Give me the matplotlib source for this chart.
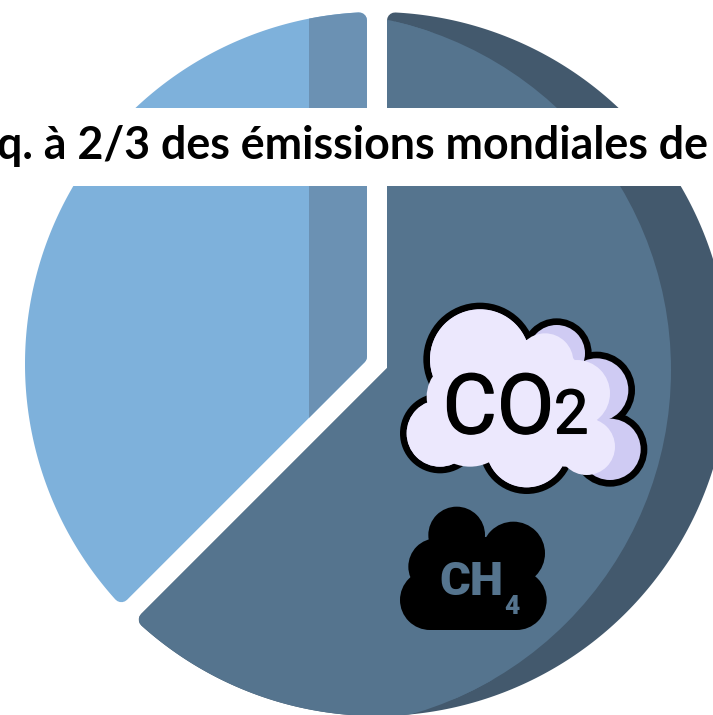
import numpy as np
import matplotlib
matplotlib.use("Agg")
import matplotlib.pyplot as plt
import matplotlib.patheffects as pe
from matplotlib.patches import Polygon, Circle, Rectangle

# data
slice_names = ["Émissions CO2 et CH4", "Reste"]
slice_values = [62.5, 37.5]
title_text = "q. à 2/3 des émissions mondiales de"

W, H = 713, 715
DPI = 100
fig = plt.figure(figsize=(W / DPI, H / DPI), dpi=DPI, facecolor="white")
ax = fig.add_axes([0, 0, 1, 1])
ax.set_xlim(0, W)
ax.set_ylim(H, 0)
ax.axis("off")

CX, CY, R = 377, 364, 352
GAP = 10      # half white gap
RND = 8       # corner radius


def slice_poly(t1, t2):
    """Inset polygon of a slice; angles in degrees clockwise from the top."""
    d = GAP + RND
    r = R - RND
    dl = np.degrees(np.arcsin(d / r))
    ts = np.radians(np.linspace(t1 + dl, t2 - dl, 300))
    pts = [(CX + r * np.sin(t), CY - r * np.cos(t)) for t in ts]
    half = np.radians((t2 - t1) / 2)
    mid = np.radians((t1 + t2) / 2)
    a = d / np.sin(half)
    pts.append((CX + a * np.sin(mid), CY - a * np.cos(mid)))
    return pts


def draw_slice(t1, t2, color, clip=None, z=1):
    p = Polygon(slice_poly(t1, t2), closed=True, facecolor=color, edgecolor=color,
                linewidth=2 * RND * 72 / DPI, joinstyle="round", zorder=z)
    ax.add_patch(p)
    if clip is not None:
        clip.set_transform(ax.transData)
        p.set_clip_path(clip)
    return p


angles = np.cumsum([0] + slice_values) / sum(slice_values) * 360
# main slice (dark crescent + lighter body)
draw_slice(angles[0], angles[1], "#43596d")
draw_slice(angles[0], angles[1], "#55748e", clip=Circle((313, 370), 358), z=2)
# second slice (light body + darker strip)
draw_slice(angles[1], angles[2], "#7eb1db")
draw_slice(angles[1], angles[2], "#6b91b3", clip=Rectangle((309, 0), 100, 600), z=2)

# title banner
ax.add_patch(Rectangle((0, 108), W, 78, facecolor="white", edgecolor="none", zorder=5))
ax.text(-3, 146, title_text, fontsize=32.2, fontweight="bold", family="Lato",
        color="black", ha="left", va="center", zorder=6)


def zx(x):
    return 380 + x / 3


def zy(y):
    return 290 + y / 3


def circles(items, color, z):
    for x, y, r in items:
        ax.add_patch(Circle((zx(x), zy(y)), r / 3, facecolor=color, edgecolor="none", zorder=z))


# CO2 cloud
lobes = [(300, 208, 170), (530, 190, 105), (650, 300, 115), (690, 478, 112),
         (440, 470, 142), (180, 430, 120), (450, 330, 200)]
circles(lobes, "black", 7)
circles([(x, y, r - 20) for x, y, r in lobes], "#cfcbf3", 8)
main = [(300, 208, 150), (180, 430, 100), (440, 470, 122), (450, 330, 180),
        (495, 215, 85), (590, 310, 100), (620, 470, 85),
        (270, 400, 130), (250, 320, 110), (560, 430, 100)]
circles(main, "#ece8fd", 9)
thick = [pe.withStroke(linewidth=1.0, foreground="black")]
ax.text(zx(188), zy(430), "CO", fontsize=60, family="Roboto", color="black",
        ha="left", va="baseline", zorder=10, path_effects=thick)
ax.text(zx(522), zy(430), "2", fontsize=44, family="Roboto", color="black",
        ha="left", va="baseline", zorder=10, path_effects=thick)

# CH4 cloud
blob = [(230, 735, 85), (400, 790, 95), (170, 830, 85), (150, 930, 90), (410, 930, 90), (300, 880, 140)]
circles(blob, "black", 7)
ax.add_patch(Rectangle((zx(150), zy(850)), 260 / 3, 170 / 3, facecolor="black", edgecolor="none", zorder=7))
ax.text(zx(178), zy(915), "CH", fontsize=34, fontweight="black", family="Roboto", color="#55748e",
        ha="left", va="baseline", zorder=10)
ax.text(zx(372), zy(972), "4", fontsize=19, fontweight="black", family="Roboto", color="#55748e",
        ha="left", va="baseline", zorder=10)

fig.savefig("out.png", dpi=DPI, facecolor="white")
